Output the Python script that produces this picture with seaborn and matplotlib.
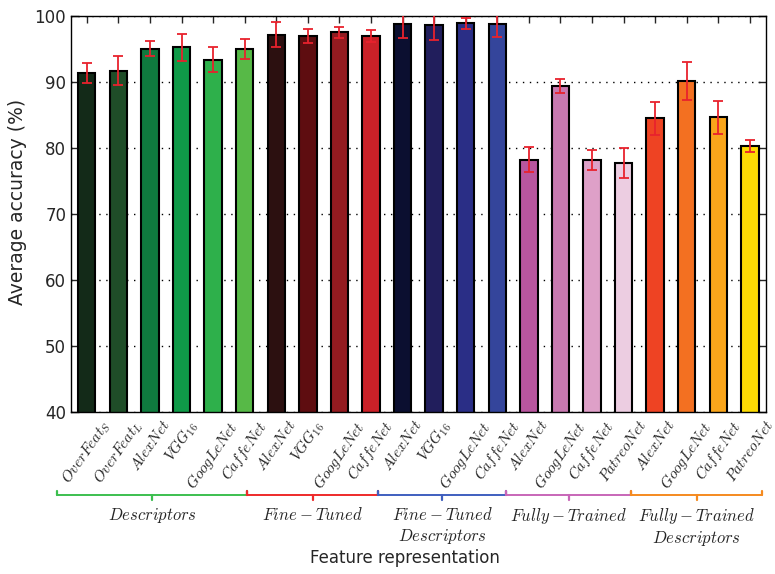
import matplotlib
matplotlib.use("Agg")
import matplotlib.pyplot as plt
import matplotlib.transforms as mtransforms
import numpy as np
import pandas as pd
import seaborn as sns

# Per-network average accuracy (%) and standard deviation, in plotting order
networks = [
    r"$OverFeat_S$", r"$OverFeat_L$", r"$AlexNet$", r"$VGG_{16}$", r"$GoogLeNet$", r"$CaffeNet$",
    r"$AlexNet$", r"$VGG_{16}$", r"$GoogLeNet$", r"$CaffeNet$",
    r"$AlexNet$", r"$VGG_{16}$", r"$GoogLeNet$", r"$CaffeNet$",
    r"$AlexNet$", r"$GoogLeNet$", r"$CaffeNet$", r"$PatreoNet$",
    r"$AlexNet$", r"$GoogLeNet$", r"$CaffeNet$", r"$PatreoNet$",
]
accuracy = [91.4, 91.75, 95.05, 95.3, 93.4, 95.05,
            97.2, 96.95, 97.55, 97.0,
            98.75, 98.6, 98.9, 98.75,
            78.25, 89.4, 78.2, 77.7,
            84.5, 90.15, 84.65, 80.3]
std_dev = [1.55, 2.2, 1.1, 2.05, 1.85, 1.5,
           1.85, 1.1, 0.8, 0.95,
           2.0, 2.2, 0.85, 1.95,
           1.9, 1.0, 1.45, 2.3,
           2.45, 2.9, 2.5, 0.9]
bar_colors = ["#132a18", "#1f4d28", "#0f7a3e", "#0f9a48", "#2eb04b", "#57b947",
              "#2c1010", "#5e0d10", "#931b20", "#cb2128",
              "#0b0f30", "#211e5c", "#2a2e86", "#34459b",
              "#b8569e", "#c879b0", "#dea0c8", "#eccde1",
              "#ee4323", "#f37021", "#f9a51b", "#fcdb04"]

# Strategy groups: label, bracket start/end (in bar units) and bracket colour
group_labels = [r"$Descriptors$", r"$Fine-Tuned$", "$Fine-Tuned$\n$Descriptors$",
                r"$Fully-Trained$", "$Fully-Trained$\n$Descriptors$"]
group_spans = [(-0.94, 5.07), (5.07, 9.23), (9.23, 13.28), (13.28, 17.25), (17.25, 21.37)]
group_colors = ["#3cbf4f", "#ee2a2a", "#3f5fbf", "#c866b8", "#f58a1f"]

sns.set_style("ticks")
plt.rcParams["font.family"] = ["DejaVu Sans"]
plt.rcParams["mathtext.fontset"] = "cm"

df = pd.DataFrame({
    "key": [f"{i:02d}" for i in range(len(accuracy))],
    "acc": accuracy,
})

fig = plt.figure(figsize=(7.75, 5.74), dpi=100)
ax = fig.add_axes([0.0916, 0.282, 0.8964, 0.690])

sns.barplot(data=df, x="key", y="acc", hue="key", palette=bar_colors, legend=False,
            width=0.55, edgecolor="black", linewidth=1.5, saturation=1, ax=ax)
ax.errorbar(np.arange(len(accuracy)), accuracy, yerr=std_dev, fmt="none",
            ecolor="#e8222d", elinewidth=1.3, capsize=3.5, capthick=1.3, zorder=5)

ax.set_xlim(-0.5, len(accuracy) - 0.5)
ax.set_ylim(40, 100)
ax.set_yticks(np.arange(40, 101, 10))
ax.set_xticks(np.arange(len(accuracy)))
ax.set_xticklabels(networks, rotation=55, fontsize=11)
ax.tick_params(axis="y", direction="in", length=6, labelsize=12, left=True, right=True, width=1)
ax.tick_params(axis="x", direction="in", length=5, top=True, bottom=False, width=1, pad=4)
ax.yaxis.grid(True, linestyle=(0, (1, 4)), color="black", linewidth=1)
ax.set_axisbelow(True)
for sp in ax.spines.values():
    sp.set_visible(True)
    sp.set_linewidth(1)
    sp.set_color("black")

ax.set_ylabel("Average accuracy (%)", fontsize=13.5)
ax.yaxis.set_label_coords(-0.063, 0.53)
ax.set_xlabel("")
fig.text(0.522, 0.012, "Feature representation", ha="center", va="bottom", fontsize=12)

# Group brackets beneath the tick labels
trans = mtransforms.blended_transform_factory(ax.transData, ax.transAxes)
y_line, y_up, y_down = -0.21, -0.20, -0.221
for (x0, x1), col, lab in zip(group_spans, group_colors, group_labels):
    xm = (x0 + x1) / 2
    ax.plot([x0, x1], [y_line, y_line], color=col, lw=1.4, transform=trans, clip_on=False)
    ax.plot([x0, x0], [y_line, y_up], color=col, lw=1.6, transform=trans, clip_on=False)
    ax.plot([x1, x1], [y_line, y_up], color=col, lw=1.6, transform=trans, clip_on=False)
    ax.plot([xm, xm], [y_line, y_down], color=col, lw=1.6, transform=trans, clip_on=False)
    ax.text(xm, -0.238, lab, transform=trans, ha="center", va="top", fontsize=12,
            multialignment="center", linespacing=1.2)

fig.savefig("out.png", dpi=100)
